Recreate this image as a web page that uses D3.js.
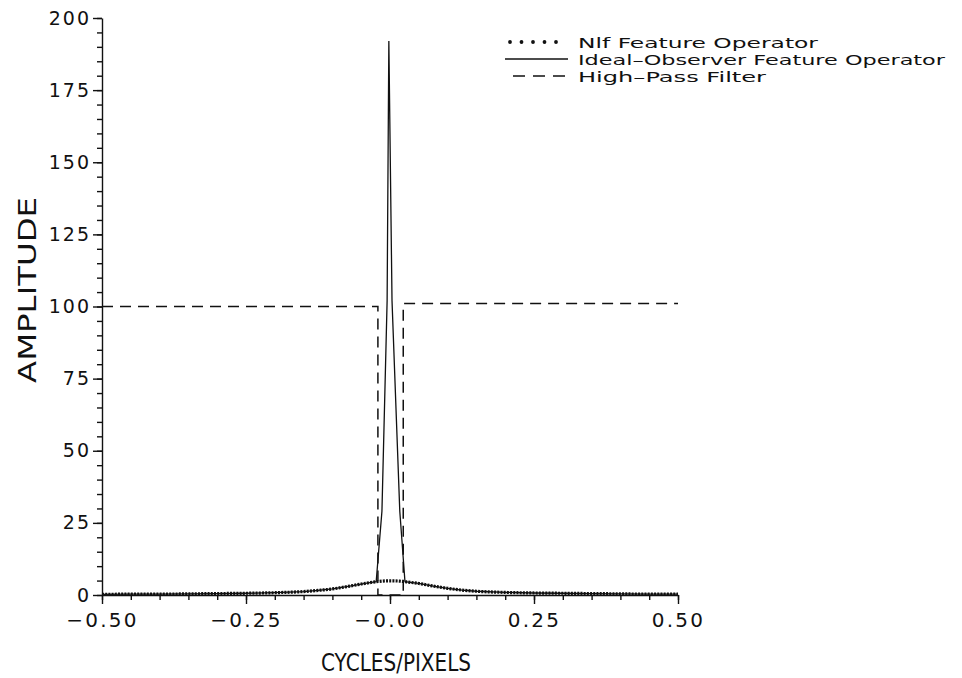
<!DOCTYPE html>
<html>
<head>
<meta charset="utf-8">
<script src="https://cdn.jsdelivr.net/npm/d3@7"></script>
<style>
  html, body { margin: 0; padding: 0; background: #fff; }
  svg { display: block; }
  text { font-family: "DejaVu Sans", "Liberation Sans", sans-serif; fill: #111; }
</style>
</head>
<body>
<svg id="chart" width="962" height="678"></svg>
<script>
// Spatial frequency samples (cycles/pixel) shared by the two feature operators
const freq = [-0.50, -0.45, -0.40, -0.35, -0.30, -0.25, -0.20, -0.15, -0.125, -0.10,
              -0.075, -0.05, -0.035, -0.024, -0.014, -0.005, -0.002,
              0.0035, 0.017, 0.026, 0.035, 0.05, 0.075, 0.10, 0.125, 0.15, 0.20,
              0.25, 0.30, 0.35, 0.40, 0.45, 0.50];

// Nlf feature operator amplitude
const nlfAmp = [0.2, 0.3, 0.3, 0.4, 0.5, 0.6, 0.8, 1.2, 1.6, 2.1,
                2.9, 3.8, 4.3, 4.6, 4.8, 4.9, 4.9,
                4.9, 4.8, 4.6, 4.4, 4.0, 3.1, 2.3, 1.7, 1.3, 0.9,
                0.7, 0.6, 0.5, 0.4, 0.3, 0.3];

// Ideal-observer feature operator amplitude
const idealAmp = [0.2, 0.3, 0.3, 0.4, 0.5, 0.6, 0.8, 1.2, 1.6, 2.1,
                  2.9, 3.8, 4.3, 4.6, 29, 102, 192,
                  102, 29, 4.6, 4.4, 4.0, 3.1, 2.3, 1.7, 1.3, 0.9,
                  0.7, 0.6, 0.5, 0.4, 0.3, 0.3];

// High-pass filter response
const hpFreq = [-0.50, -0.021, -0.021, 0.023, 0.023, 0.50];
const hpAmp  = [100, 100, 0, 0, 101, 101];

// Axis ticks and labels
const xMajor = [-0.50, -0.25, 0.00, 0.25, 0.50];
const xMajorLabels = ["\u22120.50", "\u22120.25", "\u22120.00", "0.25", "0.50"];
const xMinor = d3.range(-50, 51, 5).map(v => v / 100);
const yMajor = [0, 25, 50, 75, 100, 125, 150, 175, 200];
const yMinor = d3.range(0, 201, 5);

const legendLabels = ["Nlf Feature Operator", "Ideal\u2013Observer Feature Operator", "High\u2013Pass Filter"];

const svg = d3.select("#chart");
const x = d3.scaleLinear().domain([-0.5, 0.5]).range([102, 678]);
const y = d3.scaleLinear().domain([0, 200]).range([595, 18]);

const axisStyle = g => {
  g.selectAll("path, line").attr("stroke", "#111").attr("stroke-width", 1.4);
  g.selectAll("text").style("font-size", "19px").style("letter-spacing", "2px");
};

// Bottom axis: minor ticks every 0.05, labelled majors every 0.25
svg.append("g").attr("transform", `translate(0,${y(0)})`)
  .call(d3.axisBottom(x).tickValues(xMinor).tickSize(5).tickSizeOuter(0).tickFormat(""))
  .call(axisStyle);
svg.append("g").attr("transform", `translate(0,${y(0)})`)
  .call(d3.axisBottom(x).tickValues(xMajor).tickSize(9).tickSizeOuter(0).tickPadding(9)
        .tickFormat((d, i) => xMajorLabels[i]))
  .call(axisStyle)
  .call(g => g.select(".domain").remove())
  .call(g => g.selectAll("text").style("font-size", "20px").style("letter-spacing", "2.2px"));

// Left axis: minor ticks every 5, labelled majors every 25
svg.append("g").attr("transform", `translate(${x(-0.5)},0)`)
  .call(d3.axisLeft(y).tickValues(yMinor).tickSize(5).tickSizeOuter(0).tickFormat(""))
  .call(axisStyle);
svg.append("g").attr("transform", `translate(${x(-0.5)},0)`)
  .call(d3.axisLeft(y).tickValues(yMajor).tickSize(9).tickSizeOuter(0).tickPadding(2))
  .call(axisStyle)
  .call(g => g.select(".domain").remove());

// Curves
const pts = (xs, ys) => xs.map((f, i) => [x(f), y(ys[i])]);
const line = d3.line();
const smooth = d3.line().curve(d3.curveMonotoneX);

svg.append("path").attr("d", line(pts(hpFreq, hpAmp)))
  .attr("fill", "none").attr("stroke", "#111").attr("stroke-width", 1.5)
  .attr("stroke-dasharray", "11,7");

svg.append("path").attr("d", line(pts(freq, idealAmp)))
  .attr("fill", "none").attr("stroke", "#111").attr("stroke-width", 1.3);

svg.append("path").attr("d", smooth(pts(freq, nlfAmp)))
  .attr("fill", "none").attr("stroke", "#111").attr("stroke-width", 3.2)
  .attr("stroke-dasharray", "2,1.2");

// Legend
const legend = svg.append("g");
const rowY = [42, 59, 76];
const styles = [
  { dash: "0,11.5", width: 3.8, cap: "round", x0: 510, x1: 562 },
  { dash: null, width: 1.3, cap: "butt", x0: 505, x1: 568 },
  { dash: "12,8", width: 1.5, cap: "butt", x0: 513, x1: 565 }
];
const textLen = [240, 367, 188];
legendLabels.forEach((lab, i) => {
  const s = styles[i];
  const l = legend.append("line")
    .attr("x1", s.x0).attr("x2", s.x1).attr("y1", rowY[i]).attr("y2", rowY[i])
    .attr("stroke", "#111").attr("stroke-width", s.width).attr("stroke-linecap", s.cap);
  if (s.dash) l.attr("stroke-dasharray", s.dash);
  legend.append("text")
    .attr("x", 578).attr("y", rowY[i] + 6)
    .attr("textLength", textLen[i]).attr("lengthAdjust", "spacingAndGlyphs")
    .style("font-size", "14.5px")
    .text(lab);
});

// Axis titles
svg.append("text")
  .attr("x", 396).attr("y", 671)
  .attr("text-anchor", "middle")
  .attr("textLength", 150).attr("lengthAdjust", "spacingAndGlyphs")
  .style("font-size", "25px")
  .text("CYCLES/PIXELS");

svg.append("text")
  .attr("transform", "translate(36,290) rotate(-90)")
  .attr("text-anchor", "middle")
  .attr("textLength", 186).attr("lengthAdjust", "spacingAndGlyphs")
  .style("font-size", "25px")
  .text("AMPLITUDE");
</script>
</body>
</html>
